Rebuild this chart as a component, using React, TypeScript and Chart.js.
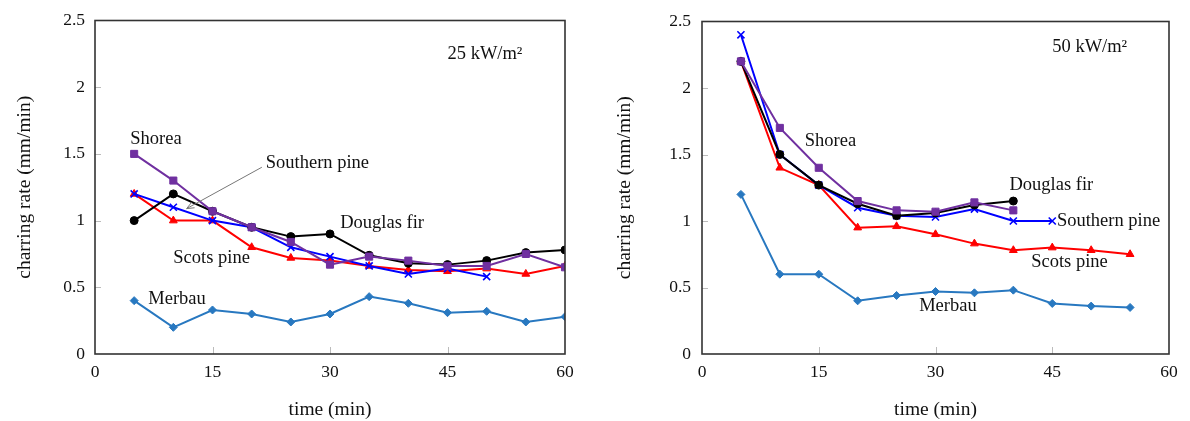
import React, { useEffect, useRef } from "react";
import { Chart, registerables } from "chart.js";
Chart.register(...registerables);

// ---------- data ----------
const times = [5, 10, 15, 20, 25, 30, 35, 40, 45, 50, 55, 60];
const xTicks = [0, 15, 30, 45, 60];
const yTicks = [0, 0.5, 1, 1.5, 2, 2.5];

// 25 kW/m2
const shorea25 = [1.5, 1.3, 1.07, 0.95, 0.84, 0.67, 0.73, 0.7, 0.66, 0.66, 0.75, 0.65];
const douglas25 = [1.0, 1.2, 1.07, 0.95, 0.88, 0.9, 0.74, 0.68, 0.67, 0.7, 0.76, 0.78];
const southern25 = [1.2, 1.1, 1.0, 0.95, 0.8, 0.73, 0.66, 0.6, 0.64, 0.58];
const scots25 = [1.2, 1.0, 1.0, 0.8, 0.72, 0.7, 0.66, 0.63, 0.62, 0.64, 0.6, 0.66];
const merbau25 = [0.4, 0.2, 0.33, 0.3, 0.24, 0.3, 0.43, 0.38, 0.31, 0.32, 0.24, 0.28];

// 50 kW/m2
const shorea50 = [2.2, 1.7, 1.4, 1.15, 1.08, 1.07, 1.14, 1.08];
const douglas50 = [2.2, 1.5, 1.27, 1.13, 1.04, 1.06, 1.12, 1.15];
const southern50 = [2.4, 1.5, 1.27, 1.1, 1.04, 1.03, 1.09, 1.0, 1.0];
const scots50 = [2.2, 1.4, 1.27, 0.95, 0.96, 0.9, 0.83, 0.78, 0.8, 0.78, 0.75];
const merbau50 = [1.2, 0.6, 0.6, 0.4, 0.44, 0.47, 0.46, 0.48, 0.38, 0.36, 0.35];

const seriesNames = ["Shorea", "Douglas fir", "Southern pine", "Scots pine", "Merbau"];
const seriesColors = ["#7030A0", "#000000", "#0000FF", "#FF0000", "#2878C0"];
const seriesPoints = ["rect", "circle", "crossRot", "triangle", "rectRot"];
const seriesRadius = [5, 4, 5, 4.5, 4];

// annotation labels: [text, x, y] in data units
const labels25: [string, number, number][] = [
  ["Shorea", 4.5, 1.61],
  ["Southern pine", 21.8, 1.43],
  ["Douglas fir", 31.3, 0.98],
  ["Scots pine", 10, 0.72],
  ["Merbau", 6.8, 0.41],
  ["25 kW/m²", 45, 2.25],
];
const arrow25: [number, number, number, number] = [21.3, 1.4, 11.7, 1.09];
const labels50: [string, number, number][] = [
  ["Shorea", 13.2, 1.6],
  ["Douglas fir", 39.5, 1.27],
  ["Southern pine", 45.6, 1.0],
  ["Scots pine", 42.3, 0.69],
  ["Merbau", 27.9, 0.36],
  ["50 kW/m²", 45, 2.31],
];

const SERIF = "'Liberation Serif', 'Times New Roman', serif";
const TEXT = "#111";

type PanelProps = {
  series: number[][];
  notes: [string, number, number][];
  arrow?: [number, number, number, number];
  yWidth: number;
  padRight: number;
  padTop: number;
  xHeight: number;
  yTitleX: number;
  yPad: number;
};

function Panel(p: PanelProps) {
  const ref = useRef<HTMLCanvasElement | null>(null);
  useEffect(() => {
    const datasets = p.series.map((vals, i) => ({
      label: seriesNames[i],
      data: vals.map((v, j) => ({ x: times[j], y: v })),
      borderColor: seriesColors[i],
      backgroundColor: seriesColors[i],
      pointBackgroundColor: seriesColors[i],
      pointBorderColor: seriesColors[i],
      pointStyle: seriesPoints[i] as any,
      pointRadius: seriesRadius[i],
      pointBorderWidth: seriesPoints[i] === "crossRot" ? 1.6 : 1,
      borderWidth: 2,
      tension: 0,
      fill: false,
    }));

    const deco = {
      id: "deco",
      afterDraw(chart: any) {
        const ctx = chart.ctx;
        const a = chart.chartArea;
        const xs = chart.scales.x;
        const ys = chart.scales.y;
        ctx.save();
        // inner ticks
        ctx.strokeStyle = "#bbbbbb";
        ctx.lineWidth = 1;
        yTicks.slice(1, -1).forEach((v) => {
          const y = Math.round(ys.getPixelForValue(v)) + 0.5;
          ctx.beginPath();
          ctx.moveTo(a.left, y);
          ctx.lineTo(a.left + 6, y);
          ctx.stroke();
        });
        xTicks.slice(1, -1).forEach((v) => {
          const x = Math.round(xs.getPixelForValue(v)) + 0.5;
          ctx.beginPath();
          ctx.moveTo(x, a.bottom);
          ctx.lineTo(x, a.bottom - 7);
          ctx.stroke();
        });
        // frame
        ctx.strokeStyle = "#333";
        ctx.lineWidth = 1.6;
        ctx.strokeRect(a.left, a.top, a.right - a.left, a.bottom - a.top);
        // annotations
        ctx.fillStyle = TEXT;
        ctx.font = `18.5px ${SERIF}`;
        ctx.textAlign = "left";
        ctx.textBaseline = "middle";
        p.notes.forEach(([t, x, y]) => {
          ctx.fillText(t, xs.getPixelForValue(x), ys.getPixelForValue(y));
        });
        if (p.arrow) {
          const [x1, y1, x2, y2] = p.arrow;
          const sx = xs.getPixelForValue(x1), sy = ys.getPixelForValue(y1);
          const ex = xs.getPixelForValue(x2), ey = ys.getPixelForValue(y2);
          ctx.strokeStyle = "#777";
          ctx.lineWidth = 1;
          ctx.beginPath();
          ctx.moveTo(sx, sy);
          ctx.lineTo(ex, ey);
          const ang = Math.atan2(ey - sy, ex - sx);
          const L = 8;
          ctx.moveTo(ex - L * Math.cos(ang - 0.4), ey - L * Math.sin(ang - 0.4));
          ctx.lineTo(ex, ey);
          ctx.lineTo(ex - L * Math.cos(ang + 0.4), ey - L * Math.sin(ang + 0.4));
          ctx.stroke();
        }
        // axis titles
        ctx.font = `19.5px ${SERIF}`;
        ctx.textAlign = "center";
        ctx.fillText("time (min)", (a.left + a.right) / 2, 410);
        ctx.translate(p.yTitleX, (a.top + a.bottom) / 2);
        ctx.rotate(-Math.PI / 2);
        ctx.fillText("charring rate (mm/min)", 0, 0);
        ctx.restore();
      },
    };

    const chart = new Chart(ref.current as HTMLCanvasElement, {
      type: "line",
      data: { datasets: datasets as any },
      options: {
        animation: false,
        responsive: false,
        devicePixelRatio: 1,
        layout: { padding: { left: 0, right: p.padRight, top: p.padTop, bottom: 0 } },
        plugins: { legend: { display: false }, tooltip: { enabled: false } },
        scales: {
          x: {
            type: "linear",
            min: 0,
            max: 60,
            afterBuildTicks: (s: any) => {
              s.ticks = xTicks.map((v) => ({ value: v }));
            },
            afterFit: (s: any) => {
              s.height = p.xHeight;
            },
            grid: { display: false, drawTicks: false },
            border: { display: false },
            ticks: {
              padding: 8,
              color: TEXT,
              font: { family: SERIF, size: 17.5 },
              maxRotation: 0,
              callback: (v: any) => String(v),
            },
          },
          y: {
            type: "linear",
            min: 0,
            max: 2.5,
            afterBuildTicks: (s: any) => {
              s.ticks = yTicks.map((v) => ({ value: v }));
            },
            afterFit: (s: any) => {
              s.width = p.yWidth;
            },
            grid: { display: false, drawTicks: false },
            border: { display: false },
            ticks: {
              padding: p.yPad,
              color: TEXT,
              font: { family: SERIF, size: 17.5 },
              callback: (v: any) => String(v),
            },
          },
        },
      },
      plugins: [deco],
    });
    return () => chart.destroy();
  }, []);
  return <canvas ref={ref} width={595} height={421} style={{ width: 595, height: 421, display: "block" }} />;
}

export default function App() {
  return (
    <div style={{ position: "absolute", left: 0, top: 0, width: 1190, height: 421, display: "flex", background: "#fff" }}>
      <Panel
        series={[shorea25, douglas25, southern25, scots25, merbau25]}
        notes={labels25}
        arrow={arrow25}
        yWidth={95}
        padRight={30}
        padTop={19}
        xHeight={67}
        yTitleX={25}
        yPad={10}
      />
      <Panel
        series={[shorea50, douglas50, southern50, scots50, merbau50]}
        notes={labels50}
        yWidth={107}
        padRight={21}
        padTop={20}
        xHeight={67}
        yTitleX={30}
        yPad={11}
      />
    </div>
  );
}
